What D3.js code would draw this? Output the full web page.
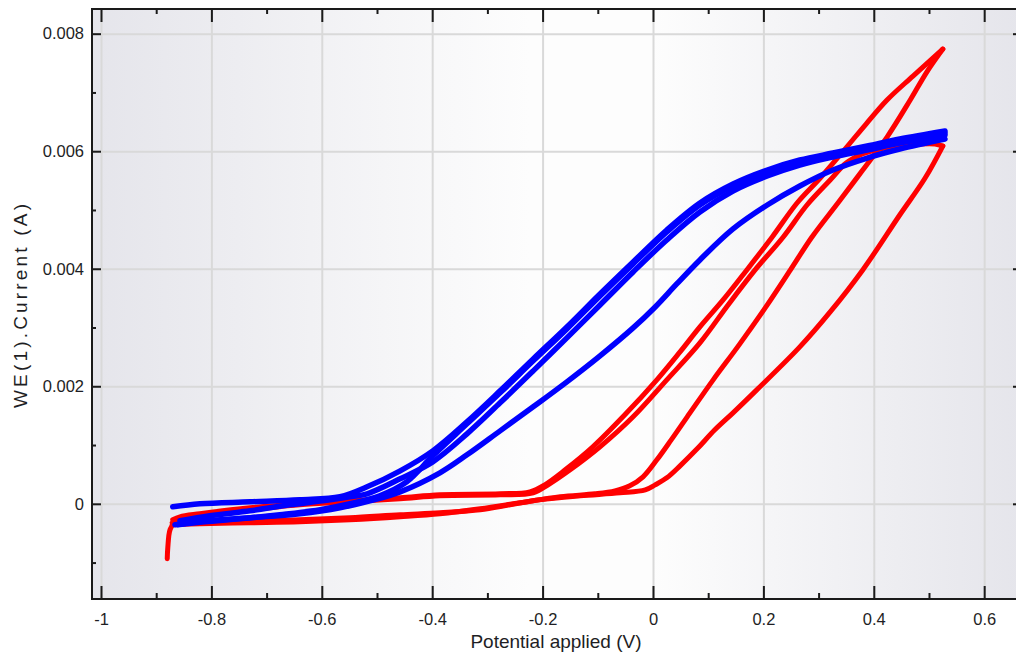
<!DOCTYPE html>
<html>
<head>
<meta charset="utf-8">
<script src="https://cdn.jsdelivr.net/npm/d3@7"></script>
<style>
  html, body { margin: 0; padding: 0; background: #ffffff; overflow: hidden; }
  svg { display: block; font-family: "Liberation Sans", Arial, sans-serif; }
</style>
</head>
<body>
<svg id="chart" width="1016" height="664"></svg>
<script>
// ---------- data ----------
const xMajor = [-1, -0.8, -0.6, -0.4, -0.2, 0, 0.2, 0.4, 0.6];
const xTickLabels = ["-1", "-0.8", "-0.6", "-0.4", "-0.2", "0", "0.2", "0.4", "0.6"];
const xMinor = [-0.9, -0.7, -0.5, -0.3, -0.1, 0.1, 0.3, 0.5];
const yMajor = [0, 0.002, 0.004, 0.006, 0.008];
const yTickLabels = ["0", "0.002", "0.004", "0.006", "0.008"];
const yMinor = [-0.001, 0.001, 0.003, 0.005, 0.007];
const xTitle = "Potential applied (V)";
const yTitle = "WE(1).Current (A)";

// red: [potential V, current A], one array per sweep
const redFwd1 = [[-0.880,-0.000935],[-0.879,-0.000748],[-0.875,-0.000442],[-0.868,-0.000340],[-0.821,-0.000306],[-0.730,-0.000289],[-0.640,-0.000272],[-0.549,-0.000238],[-0.458,-0.000187],[-0.386,-0.000153],[-0.313,-0.000102],[-0.259,-0.000017],[-0.205,0.000068],[-0.132,0.000136],[-0.060,0.000187],[-0.014,0.000238],[0.004,0.000323],[0.025,0.000442],[0.049,0.000646],[0.080,0.000935],[0.112,0.001259],[0.145,0.001548],[0.188,0.001939],[0.266,0.002670],[0.321,0.003265],[0.380,0.003980],[0.447,0.004915],[0.493,0.005544],[0.525,0.006088]];
const redRev1 = [[0.525,0.006088],[0.511,0.006122],[0.484,0.006122],[0.447,0.006088],[0.411,0.006037],[0.379,0.005952],[0.350,0.005799],[0.321,0.005510],[0.279,0.005085],[0.236,0.004541],[0.185,0.003980],[0.136,0.003384],[0.085,0.002738],[0.025,0.002109],[-0.036,0.001480],[-0.096,0.000969],[-0.150,0.000578],[-0.190,0.000323],[-0.217,0.000187],[-0.277,0.000153],[-0.386,0.000136],[-0.458,0.000085],[-0.549,0.000034],[-0.640,-0.000017],[-0.730,-0.000102],[-0.821,-0.000204],[-0.857,-0.000255],[-0.871,-0.000323]];
const redFwd2 = [[-0.871,-0.000357],[-0.821,-0.000340],[-0.730,-0.000323],[-0.640,-0.000306],[-0.549,-0.000272],[-0.458,-0.000221],[-0.386,-0.000170],[-0.313,-0.000085],[-0.241,0.000017],[-0.168,0.000119],[-0.105,0.000170],[-0.069,0.000221],[-0.042,0.000306],[-0.018,0.000459],[0.007,0.000748],[0.033,0.001088],[0.062,0.001480],[0.109,0.002109],[0.156,0.002704],[0.207,0.003384],[0.249,0.003980],[0.288,0.004541],[0.335,0.005119],[0.380,0.005680],[0.424,0.006241],[0.466,0.006871],[0.496,0.007347],[0.525,0.007738]];
const redRev2 = [[0.525,0.007738],[0.471,0.007279],[0.424,0.006871],[0.386,0.006463],[0.351,0.006071],[0.303,0.005544],[0.261,0.005119],[0.216,0.004541],[0.170,0.003980],[0.127,0.003469],[0.085,0.003010],[0.049,0.002585],[0.007,0.002109],[-0.051,0.001514],[-0.109,0.000969],[-0.159,0.000578],[-0.196,0.000323],[-0.223,0.000204],[-0.277,0.000170],[-0.386,0.000153],[-0.458,0.000102],[-0.549,0.000051],[-0.640,0.000000],[-0.730,-0.000068],[-0.821,-0.000170],[-0.857,-0.000221],[-0.870,-0.000272]];

// blue: [potential V, current A], one array per sweep
const blueFwd1 = [[-0.866,-0.000357],[-0.808,-0.000289],[-0.730,-0.000238],[-0.640,-0.000170],[-0.567,-0.000068],[-0.513,0.000051],[-0.458,0.000204],[-0.386,0.000527],[-0.337,0.000833],[-0.277,0.001241],[-0.217,0.001650],[-0.156,0.002075],[-0.096,0.002517],[-0.036,0.002993],[0.004,0.003350],[0.043,0.003741],[0.085,0.004150],[0.145,0.004677],[0.207,0.005085],[0.266,0.005408],[0.326,0.005680],[0.388,0.005884],[0.447,0.006037],[0.529,0.006207]];
const blueRev1 = [[0.529,0.006344],[0.447,0.006207],[0.388,0.006088],[0.326,0.005969],[0.266,0.005850],[0.207,0.005680],[0.145,0.005442],[0.085,0.005119],[0.025,0.004660],[-0.036,0.004116],[-0.096,0.003571],[-0.156,0.003010],[-0.217,0.002466],[-0.277,0.001922],[-0.337,0.001395],[-0.399,0.000901],[-0.458,0.000561],[-0.518,0.000289],[-0.567,0.000119],[-0.640,0.000068],[-0.730,0.000034],[-0.821,0.000000],[-0.870,-0.000051]];
const blueFwd2 = [[-0.857,-0.000289],[-0.803,-0.000204],[-0.730,-0.000119],[-0.658,-0.000017],[-0.598,0.000051],[-0.549,0.000119],[-0.518,0.000170],[-0.458,0.000425],[-0.399,0.000714],[-0.337,0.001190],[-0.277,0.001718],[-0.217,0.002262],[-0.156,0.002823],[-0.096,0.003384],[-0.036,0.003946],[0.025,0.004490],[0.085,0.004966],[0.145,0.005323],[0.207,0.005578],[0.266,0.005765],[0.326,0.005901],[0.388,0.006020],[0.447,0.006139],[0.529,0.006276]];
const blueRev2 = [[0.529,0.006310],[0.447,0.006173],[0.388,0.006054],[0.326,0.005935],[0.266,0.005816],[0.207,0.005646],[0.145,0.005408],[0.085,0.005085],[0.025,0.004626],[-0.036,0.004082],[-0.096,0.003537],[-0.156,0.002976],[-0.217,0.002432],[-0.277,0.001888],[-0.337,0.001361],[-0.399,0.000816],[-0.446,0.000374],[-0.495,0.000136],[-0.549,0.000000],[-0.603,-0.000102],[-0.676,-0.000187],[-0.748,-0.000255],[-0.812,-0.000306],[-0.861,-0.000357]];

const redSweeps = [redFwd1, redRev1, redFwd2, redRev2];
const blueSweeps = [blueFwd1, blueRev1, blueFwd2, blueRev2];

// ---------- layout ----------
const plot = { left: 92, right: 1022, top: 9, bottom: 599 };
const xDomain = [-1.0163, 0.6685];
const yDomain = [-0.00162, 0.00842];

const svg = d3.select("#chart");
const x = d3.scaleLinear().domain(xDomain).range([plot.left, plot.right]);
const y = d3.scaleLinear().domain(yDomain).range([plot.bottom, plot.top]);

// background gradient
const defs = svg.append("defs");
const grad = defs.append("linearGradient").attr("id", "bg")
  .attr("gradientUnits", "userSpaceOnUse")
  .attr("x1", plot.left).attr("x2", plot.right).attr("y1", 0).attr("y2", 0);
[[0, "#e5e5eb"], [0.47, "#fdfdfd"], [0.6, "#fdfdfd"], [1, "#e5e5eb"]].forEach(s =>
  grad.append("stop").attr("offset", s[0]).attr("stop-color", s[1]));
defs.append("clipPath").attr("id", "clip").append("rect")
  .attr("x", plot.left).attr("y", plot.top)
  .attr("width", plot.right - plot.left).attr("height", plot.bottom - plot.top);

svg.append("rect").attr("x", plot.left).attr("y", plot.top)
  .attr("width", plot.right - plot.left).attr("height", plot.bottom - plot.top)
  .attr("fill", "url(#bg)");

// gridlines
const gridX = svg.append("g").attr("transform", `translate(0,${plot.bottom})`)
  .call(d3.axisBottom(x).tickValues(xMajor).tickSize(-(plot.bottom - plot.top)).tickFormat(""));
const gridY = svg.append("g").attr("transform", `translate(${plot.left},0)`)
  .call(d3.axisLeft(y).tickValues(yMajor).tickSize(-(plot.right - plot.left)).tickFormat(""));
[gridX, gridY].forEach(g => {
  g.select(".domain").remove();
  g.selectAll("line").attr("stroke", "#d9d9d9").attr("stroke-width", 2);
});

// data lines
const line = d3.line().x(d => x(d[0])).y(d => y(d[1])).curve(d3.curveCatmullRom.alpha(0.5));
const dataG = svg.append("g").attr("clip-path", "url(#clip)");
redSweeps.forEach(s => dataG.append("path").attr("d", line(s))
  .attr("fill", "none").attr("stroke", "#ff0000").attr("stroke-width", 5)
  .attr("stroke-linejoin", "round").attr("stroke-linecap", "round"));
blueSweeps.forEach(s => dataG.append("path").attr("d", line(s))
  .attr("fill", "none").attr("stroke", "#0000ff").attr("stroke-width", 5.5)
  .attr("stroke-linejoin", "round").attr("stroke-linecap", "round"));

// frame
svg.append("rect").attr("x", plot.left).attr("y", plot.top)
  .attr("width", plot.right - plot.left).attr("height", plot.bottom - plot.top)
  .attr("fill", "none").attr("stroke", "#1a1a1a").attr("stroke-width", 2);

// axes (ticks point inward)
function styleAxis(g) {
  g.select(".domain").remove();
  g.selectAll("line").attr("stroke", "#1a1a1a").attr("stroke-width", 2);
  g.selectAll("text").attr("fill", "#1e1e24").style("font-size", "16.5px")
    .style("font-family", '"Liberation Sans", Arial, sans-serif');
}
const ax = [];
ax.push(svg.append("g").attr("transform", `translate(0,${plot.bottom})`)
  .call(d3.axisBottom(x).tickValues(xMajor).tickSize(-13).tickPadding(14)
    .tickFormat((d, i) => xTickLabels[i])));
ax.push(svg.append("g").attr("transform", `translate(0,${plot.bottom})`)
  .call(d3.axisBottom(x).tickValues(xMinor).tickSize(-6).tickFormat("")));
ax.push(svg.append("g").attr("transform", `translate(0,${plot.top})`)
  .call(d3.axisTop(x).tickValues(xMajor).tickSize(-13).tickFormat("")));
ax.push(svg.append("g").attr("transform", `translate(0,${plot.top})`)
  .call(d3.axisTop(x).tickValues(xMinor).tickSize(-5).tickFormat("")));
ax.push(svg.append("g").attr("transform", `translate(${plot.left},0)`)
  .call(d3.axisLeft(y).tickValues(yMajor).tickSize(-9).tickPadding(8)
    .tickFormat((d, i) => yTickLabels[i])));
ax.push(svg.append("g").attr("transform", `translate(${plot.left},0)`)
  .call(d3.axisLeft(y).tickValues(yMinor).tickSize(-4).tickFormat("")));
ax.push(svg.append("g").attr("transform", `translate(${plot.right},0)`)
  .call(d3.axisRight(y).tickValues(yMajor).tickSize(-9).tickFormat("")));
ax.push(svg.append("g").attr("transform", `translate(${plot.right},0)`)
  .call(d3.axisRight(y).tickValues(yMinor).tickSize(-4).tickFormat("")));
ax.forEach(styleAxis);

// titles
svg.append("text").attr("x", 556).attr("y", 648).attr("text-anchor", "middle")
  .attr("fill", "#1e1e24").style("font-size", "19px").text(xTitle);
svg.append("text").attr("transform", "translate(27,306) rotate(-90)")
  .attr("text-anchor", "middle").attr("fill", "#1e1e24").style("font-size", "19px")
  .attr("textLength", 204).attr("lengthAdjust", "spacing").text(yTitle);
</script>
</body>
</html>
